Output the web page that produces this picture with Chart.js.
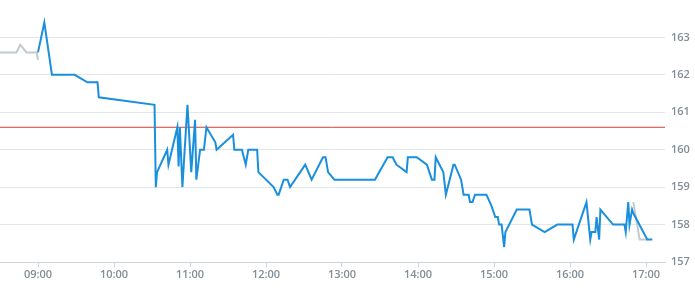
<!DOCTYPE html>
<html>
<head>
<meta charset="utf-8">
<script src="https://cdn.jsdelivr.net/npm/chart.js@4/dist/chart.umd.min.js"></script>
<style>
  html, body { margin: 0; padding: 0; background: #ffffff; }
  #wrap { width: 695px; height: 300px; }
</style>
</head>
<body>
<div id="wrap"><canvas id="c" width="695" height="300"></canvas></div>
<script>
// ---- data ----
const mainTimes = ['09:00','09:05','09:11','09:29','09:39','09:47','09:48','10:32','10:33','10:34','10:42','10:43','10:50','10:51','10:52','10:54','10:58','11:01','11:04','11:05','11:08','11:11','11:13','11:20','11:21','11:34','11:35','11:41','11:44','11:46','11:53','11:54','12:06','12:09','12:10','12:14','12:17','12:19','12:31','12:36','12:45','12:47','12:49','12:54','13:26','13:36','13:40','13:43','13:51','13:52','13:59','14:07','14:11','14:13','14:14','14:17','14:20','14:22','14:28','14:29','14:34','14:36','14:40','14:41','14:43','14:45','14:54','14:58','15:01','15:03','15:04','15:06','15:08','15:09','15:18','15:28','15:30','15:40','15:50','16:02','16:03','16:13','16:16','16:17','16:20','16:21','16:23','16:24','16:34','16:43','16:44','16:46','16:47','16:49','16:50','17:01','17:05'];
const mainPrices = [162.6,163.4,162.0,162.0,161.8,161.8,161.4,161.2,159.0,159.4,160.0,159.6,160.6,159.55,160.6,159.0,161.2,159.4,160.8,159.2,160.0,160.0,160.6,160.2,160.0,160.4,160.0,160.0,159.6,160.0,160.0,159.4,159.0,158.8,158.8,159.2,159.2,159.0,159.6,159.2,159.8,159.8,159.4,159.2,159.2,159.8,159.8,159.6,159.4,159.8,159.8,159.6,159.2,159.2,159.8,159.6,159.4,158.8,159.6,159.6,159.2,158.8,158.8,158.6,158.6,158.8,158.8,158.5,158.2,158.2,158.0,158.0,157.4,157.8,158.4,158.4,158.0,157.8,158.0,158.0,157.6,158.6,157.6,157.8,157.8,158.2,157.6,158.4,158.0,158.0,157.8,158.6,158.0,158.4,158.3,157.6,157.6];
const preTimes = ['08:30','08:43','08:46','08:51','08:59','09:00'];
const prePrices = [162.6,162.6,162.8,162.6,162.6,162.4];
const postTimes = ['16:50','16:55','17:02'];
const postPrices = [158.6,157.6,157.6];
const refPrice = 160.6;
const xTickLabels = ['09:00','10:00','11:00','12:00','13:00','14:00','15:00','16:00','17:00'];
const yTickValues = [157,158,159,160,161,162,163];
const xRange = ['08:30','17:15'];
const yRange = [157,164];

// ---- helpers ----
function toMin(t){ const p = t.split(':'); return (+p[0])*60 + (+p[1]); }
function fmt(m){ const h = Math.floor(m/60), mm = Math.round(m%60); return String(h).padStart(2,'0')+':'+String(mm).padStart(2,'0'); }
function pts(ts, vs){ return ts.map((t,i)=>({x: toMin(t), y: vs[i]})); }

const tickFont = { family: '"Open Sans", "Noto Sans", sans-serif', size: 11, weight: '600' };
const tickColor = '#838d96';

new Chart(document.getElementById('c'), {
  type: 'line',
  data: {
    datasets: [
      { data: pts(mainTimes, mainPrices), borderColor: '#1a8fdc', borderWidth: 2, pointRadius: 0, tension: 0, order: 0 },
      { data: pts(preTimes, prePrices), borderColor: '#c3cace', borderWidth: 2, pointRadius: 0, tension: 0, order: 1 },
      { data: pts(postTimes, postPrices), borderColor: '#c3cace', borderWidth: 2, pointRadius: 0, tension: 0, order: 1 },
      { data: [{x: toMin(xRange[0]), y: refPrice}, {x: toMin(xRange[1]), y: refPrice}], borderColor: '#cf3c36', borderWidth: 1, pointRadius: 0, tension: 0, order: 2 }
    ]
  },
  options: {
    responsive: false,
    animation: false,
    devicePixelRatio: 1,
    layout: { padding: { left: 0, right: 0, top: 0, bottom: 0 } },
    plugins: { legend: { display: false }, tooltip: { enabled: false } },
    scales: {
      x: {
        type: 'linear',
        min: toMin(xRange[0]),
        max: toMin(xRange[1]),
        afterBuildTicks: (axis) => { axis.ticks = xTickLabels.map(t => ({ value: toMin(t) })); },
        afterFit: (axis) => { axis.height = 38; axis.paddingLeft = 0; axis.paddingRight = 0; },
        ticks: { callback: (v) => fmt(v), font: tickFont, color: tickColor, padding: 1, maxRotation: 0, autoSkip: false },
        grid: { drawOnChartArea: false, drawTicks: true, tickLength: 5, color: '#cfd5d9', lineWidth: 1 },
        border: { display: true, color: '#cfd5d9', width: 1 }
      },
      y: {
        position: 'right',
        min: yRange[0],
        max: yRange[1],
        afterBuildTicks: (axis) => { axis.ticks = yTickValues.map(v => ({ value: v })); },
        afterFit: (axis) => { axis.width = 30; axis.paddingTop = 0; axis.paddingBottom = 0; },
        ticks: { font: tickFont, color: tickColor, padding: 6 },
        grid: { drawTicks: false, color: '#e4e7ea', lineWidth: 1 },
        border: { display: false }
      }
    }
  }
});
</script>
</body>
</html>
